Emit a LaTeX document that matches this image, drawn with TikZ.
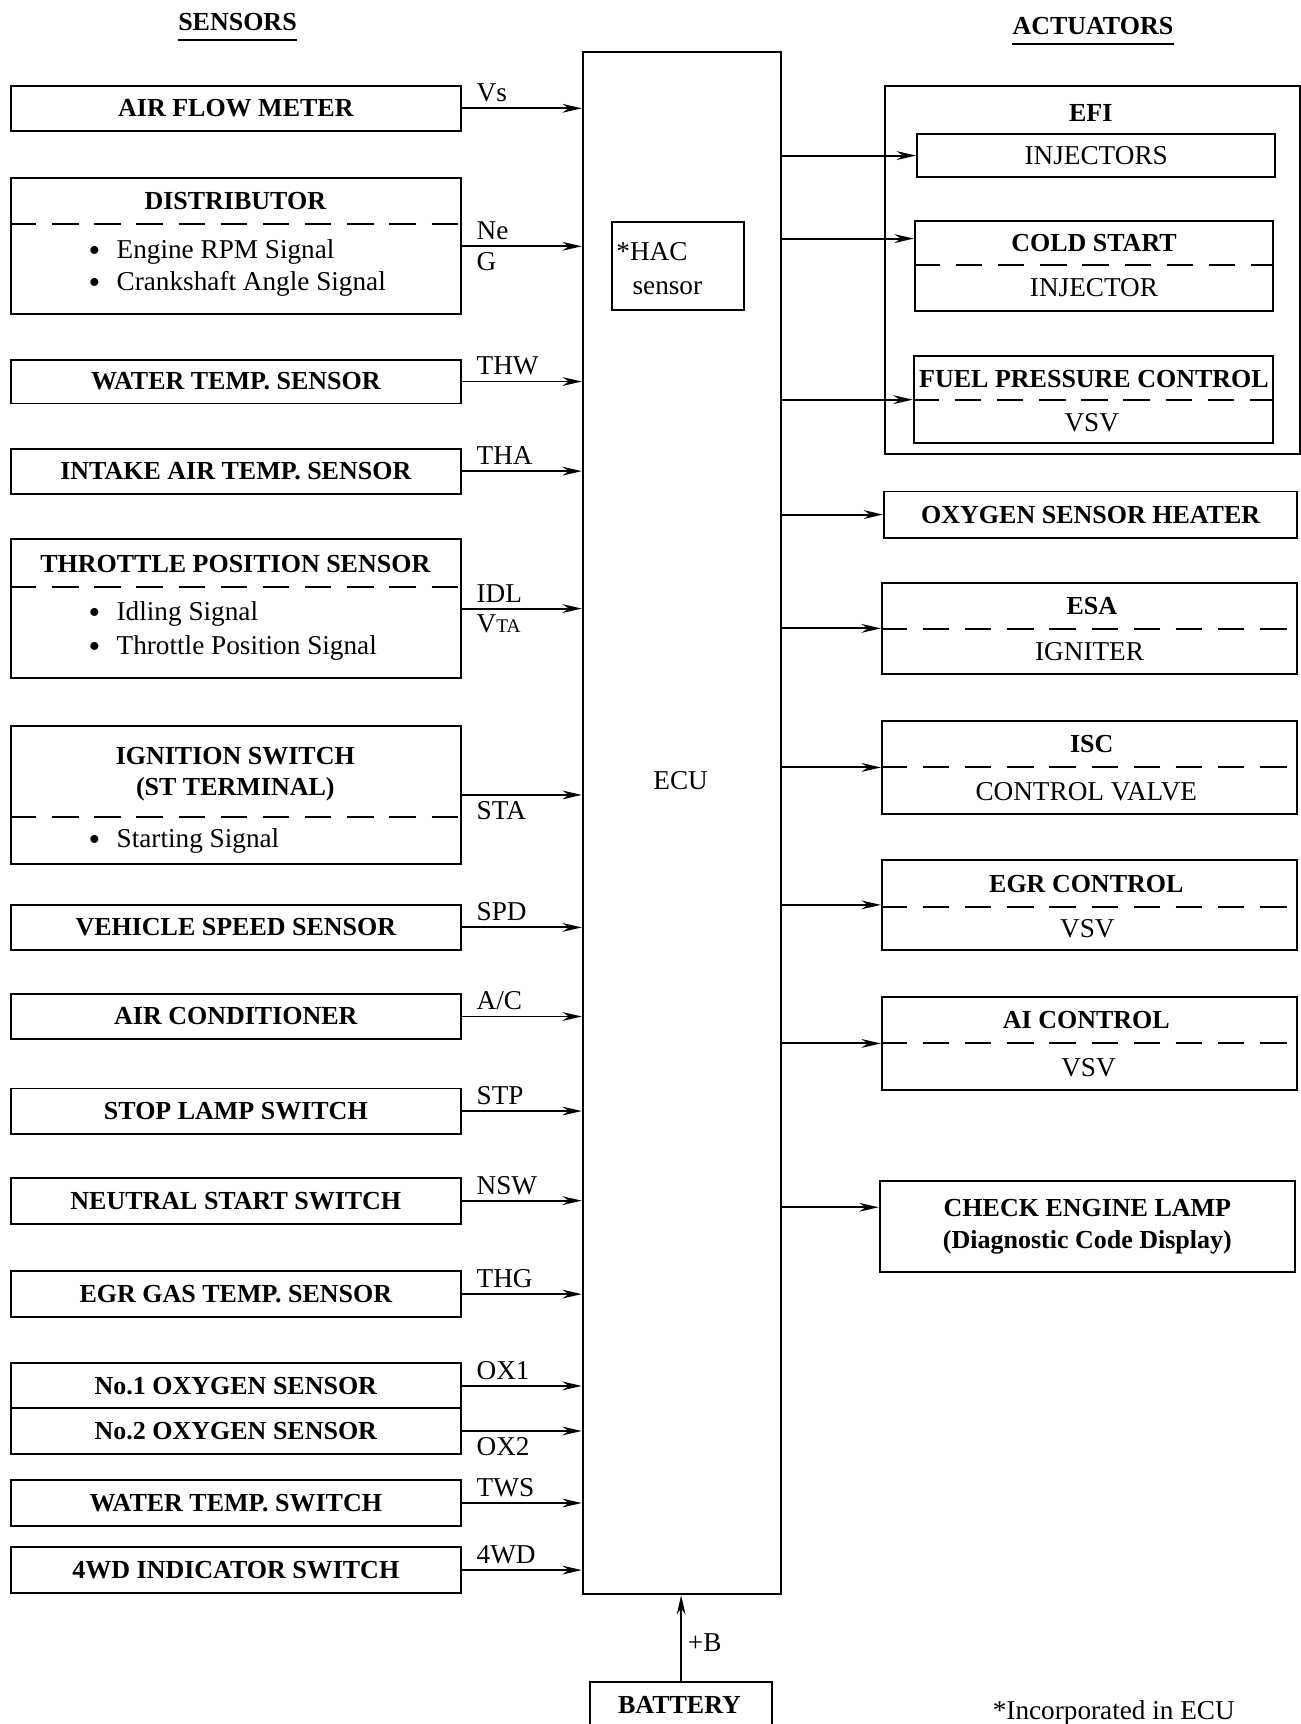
\documentclass[tikz,border=0pt]{standalone}
\usepackage{fontspec}
\setmainfont{Liberation Serif}
\usepackage{tikz}
\usetikzlibrary{arrows.meta,fit}
\newcommand{\lblrm}{\fontsize{15.5}{18}\selectfont}
\newcommand{\lblbf}{\fontsize{14.8}{18}\selectfont\bfseries}
\newcommand{\dotitem}{\smash{\raisebox{-0.1em}{\fontsize{19}{19}\selectfont\textbullet}}\hspace{0.6em}}

\begin{document}
\begin{tikzpicture}[
    x=0.022cm, y=-0.022cm,
    font=\lblrm,
    box/.style={draw, line width=1.1pt, inner sep=0pt},
    head/.style={font=\lblbf},
    heading/.style={font=\lblbf, inner xsep=0pt, inner ysep=5pt},
    entry/.style={anchor=west, align=left, inner ysep=1pt},
    divider/.style={line width=1.1pt, dash pattern=on 15pt off 9pt},
    arr/.style={line width=1.1pt, -{Stealth[length=11pt, width=5pt]}},
    sig/.style={inner sep=3pt, xshift=5pt}
  ]
  \useasboundingbox (0,0) rectangle (1183,1568);

  \node[heading] (sens) at (216,20) {SENSORS};
  \draw[line width=1.1pt] (sens.south west) -- (sens.south east);
  \node[heading] (acts) at (994,24) {ACTUATORS};
  \draw[line width=1.1pt] (acts.south west) -- (acts.south east);

  \node[box, fit={(530,47) (710,1450)}] (ecu) {};
  \node (ecu-t) at (619,710) {ECU};
  \node[box, fit={(557,202) (677,282)}] (hac) {};
  \node[anchor=west] (hac-a) at (555,229) {*HAC};
  \node (hac-b) at (607,262) {sensor};

  \node[box, fit={(10,78) (419,119)}] (afm) {};
  \node[head] (afm-t) at (afm) {AIR FLOW METER};
  \node[box, fit={(10,162) (419,286)}] (dist) {};
  \draw[divider] (dist.west |- 0,204) -- (dist.east |- 0,204);
  \node[head] (dist-t) at (214,183) {DISTRIBUTOR};
  \node[entry] (dist-a) at (75,244) {\dotitem Engine RPM Signal\\\dotitem Crankshaft Angle Signal};
  \node[box, fit={(10,327) (419,367)}] (wts) {};
  \node[head] (wts-t) at (wts) {WATER TEMP. SENSOR};
  \node[box, fit={(10,408) (419,449)}] (iat) {};
  \node[head] (iat-t) at (iat) {INTAKE AIR TEMP. SENSOR};
  \node[box, fit={(10,490) (419,617)}] (tps) {};
  \draw[divider] (tps.west |- 0,534) -- (tps.east |- 0,534);
  \node[head] (tps-t) at (214,513) {THROTTLE POSITION SENSOR};
  \node[entry] (tps-a) at (75,574) {\dotitem Idling Signal\\[1.5pt]\dotitem Throttle Position Signal};
  \node[box, fit={(10,660) (419,786)}] (ign) {};
  \draw[divider] (ign.west |- 0,743) -- (ign.east |- 0,743);
  \node[head, align=center] (ign-t) at (214,704) {IGNITION SWITCH\\(ST TERMINAL)};
  \node[entry] (ign-a) at (75,765) {\dotitem Starting Signal};
  \node[box, fit={(10,823) (419,864)}] (vss) {};
  \node[head] (vss-t) at (vss) {VEHICLE SPEED SENSOR};
  \node[box, fit={(10,904) (419,945)}] (ac) {};
  \node[head] (ac-t) at (ac) {AIR CONDITIONER};
  \node[box, fit={(10,990) (419,1031)}] (sls) {};
  \node[head] (sls-t) at (sls) {STOP LAMP SWITCH};
  \node[box, fit={(10,1071) (419,1113)}] (nss) {};
  \node[head] (nss-t) at (nss) {NEUTRAL START SWITCH};
  \node[box, fit={(10,1156) (419,1198)}] (egt) {};
  \node[head] (egt-t) at (egt) {EGR GAS TEMP. SENSOR};
  \node[box, fit={(10,1240) (419,1281)}] (ox1) {};
  \node[head] (ox1-t) at (ox1) {No.1 OXYGEN SENSOR};
  \node[box, fit={(10,1281) (419,1322)}] (ox2) {};
  \node[head] (ox2-t) at (ox2) {No.2 OXYGEN SENSOR};
  \node[box, fit={(10,1346) (419,1388)}] (wsw) {};
  \node[head] (wsw-t) at (wsw) {WATER TEMP. SWITCH};
  \node[box, fit={(10,1407) (419,1449)}] (fwd) {};
  \node[head] (fwd-t) at (fwd) {4WD INDICATOR SWITCH};

  \draw[arr] (afm.east) -- node[sig, pos=0, above right] (afm-s) {Vs} (afm.east -| ecu.west);
  \draw[arr] (dist.east) -- node[sig, pos=0, above right] (dist-s) {Ne} node[sig, pos=0, below right] (dist-g) {G} (dist.east -| ecu.west);
  \draw[arr] (wts.east) -- node[sig, pos=0, above right] (wts-s) {THW} (wts.east -| ecu.west);
  \draw[arr] (iat.east) -- node[sig, pos=0, above right] (iat-s) {THA} (iat.east -| ecu.west);
  \draw[arr] (tps.east) -- node[sig, pos=0, above right] (tps-s) {IDL} node[sig, pos=0, below right] (tps-v) {V{\fontsize{11}{12}\selectfont TA}} (tps.east -| ecu.west);
  \draw[arr] (ign.east) -- node[sig, pos=0, below right] (ign-s) {STA} (ign.east -| ecu.west);
  \draw[arr] (vss.east) -- node[sig, pos=0, above right] (vss-s) {SPD} (vss.east -| ecu.west);
  \draw[arr] (ac.east) -- node[sig, pos=0, above right] (ac-s) {A/C} (ac.east -| ecu.west);
  \draw[arr] (sls.east) -- node[sig, pos=0, above right] (sls-s) {STP} (sls.east -| ecu.west);
  \draw[arr] (nss.east) -- node[sig, pos=0, above right] (nss-s) {NSW} (nss.east -| ecu.west);
  \draw[arr] (egt.east) -- node[sig, pos=0, above right] (egt-s) {THG} (egt.east -| ecu.west);
  \draw[arr] (ox1.east) -- node[sig, pos=0, above right] (ox1-s) {OX1} (ox1.east -| ecu.west);
  \draw[arr] (ox2.east) -- node[sig, pos=0, below right] (ox2-s) {OX2} (ox2.east -| ecu.west);
  \draw[arr] (wsw.east) -- node[sig, pos=0, above right] (wsw-s) {TWS} (wsw.east -| ecu.west);
  \draw[arr] (fwd.east) -- node[sig, pos=0, above right] (fwd-s) {4WD} (fwd.east -| ecu.west);

  \node[box, fit={(805,78) (1182,413)}] (efi) {};
  \node[head] (efi-t) at (992,103) {EFI};
  \node[box, fit={(834,122) (1160,161)}] (inj) {};
  \node (inj-t) at (inj) {INJECTORS};
  \node[box, fit={(832,201) (1158,283)}] (cs) {};
  \draw[divider] (cs.west |- 0,241) -- (cs.east |- 0,241);
  \node[head] (cs-t) at (995,221) {COLD START};
  \node (cs-b) at (995,262) {INJECTOR};
  \node[box, fit={(831,324) (1158,403)}] (fpc) {};
  \draw[divider] (fpc.west |- 0,364) -- (fpc.east |- 0,364);
  \node[head] (fpc-t) at (995,345) {FUEL PRESSURE CONTROL};
  \node (fpc-b) at (993,384) {VSV};
  \node[box, fit={(804,447) (1180,489)}] (osh) {};
  \node[head] (osh-t) at (osh) {OXYGEN SENSOR HEATER};
  \node[box, fit={(802,530) (1180,613)}] (esa) {};
  \draw[divider] (esa.west |- 0,572) -- (esa.east |- 0,572);
  \node[head] (esa-t) at (993,551) {ESA};
  \node (esa-b) at (991,593) {IGNITER};
  \node[box, fit={(802,656) (1180,740)}] (isc) {};
  \draw[divider] (isc.west |- 0,698) -- (isc.east |- 0,698);
  \node[head] (isc-t) at (993,677) {ISC};
  \node (isc-b) at (988,720) {CONTROL VALVE};
  \node[box, fit={(802,782) (1180,864)}] (egr) {};
  \draw[divider] (egr.west |- 0,825) -- (egr.east |- 0,825);
  \node[head] (egr-t) at (988,804) {EGR CONTROL};
  \node (egr-b) at (989,845) {VSV};
  \node[box, fit={(802,907) (1180,991)}] (aic) {};
  \draw[divider] (aic.west |- 0,949) -- (aic.east |- 0,949);
  \node[head] (aic-t) at (988,928) {AI CONTROL};
  \node (aic-b) at (990,971) {VSV};
  \node[box, fit={(800,1074) (1178,1157)}] (cel) {};
  \node[head, align=center] (cel-t) at (cel) {CHECK ENGINE LAMP\\(Diagnostic Code Display)};

  \coordinate (cs-in) at (cs.west |- 0,217);
  \coordinate (cel-in) at (cel.west |- 0,1098);
  \draw[arr] (inj.west -| ecu.east) -- (inj.west);
  \draw[arr] (cs-in -| ecu.east) -- (cs-in);
  \draw[arr] (fpc.west -| ecu.east) -- (fpc.west);
  \draw[arr] (osh.west -| ecu.east) -- (osh.west);
  \draw[arr] (esa.west -| ecu.east) -- (esa.west);
  \draw[arr] (isc.west -| ecu.east) -- (isc.west);
  \draw[arr] (egr.west -| ecu.east) -- (egr.west);
  \draw[arr] (aic.west -| ecu.east) -- (aic.west);
  \draw[arr] (cel-in -| ecu.east) -- (cel-in);

  \node[box, fit={(537,1530) (702,1572)}] (bat) {};
  \node[head] (bat-t) at (618,1551) {BATTERY};
  \draw[arr] (bat.north) -- node[right, pos=0.45] (bat-s) {+B} (bat.north |- ecu.south);

  \node (note) at (1013,1558) {*Incorporated in ECU};
\end{tikzpicture}
\end{document}
